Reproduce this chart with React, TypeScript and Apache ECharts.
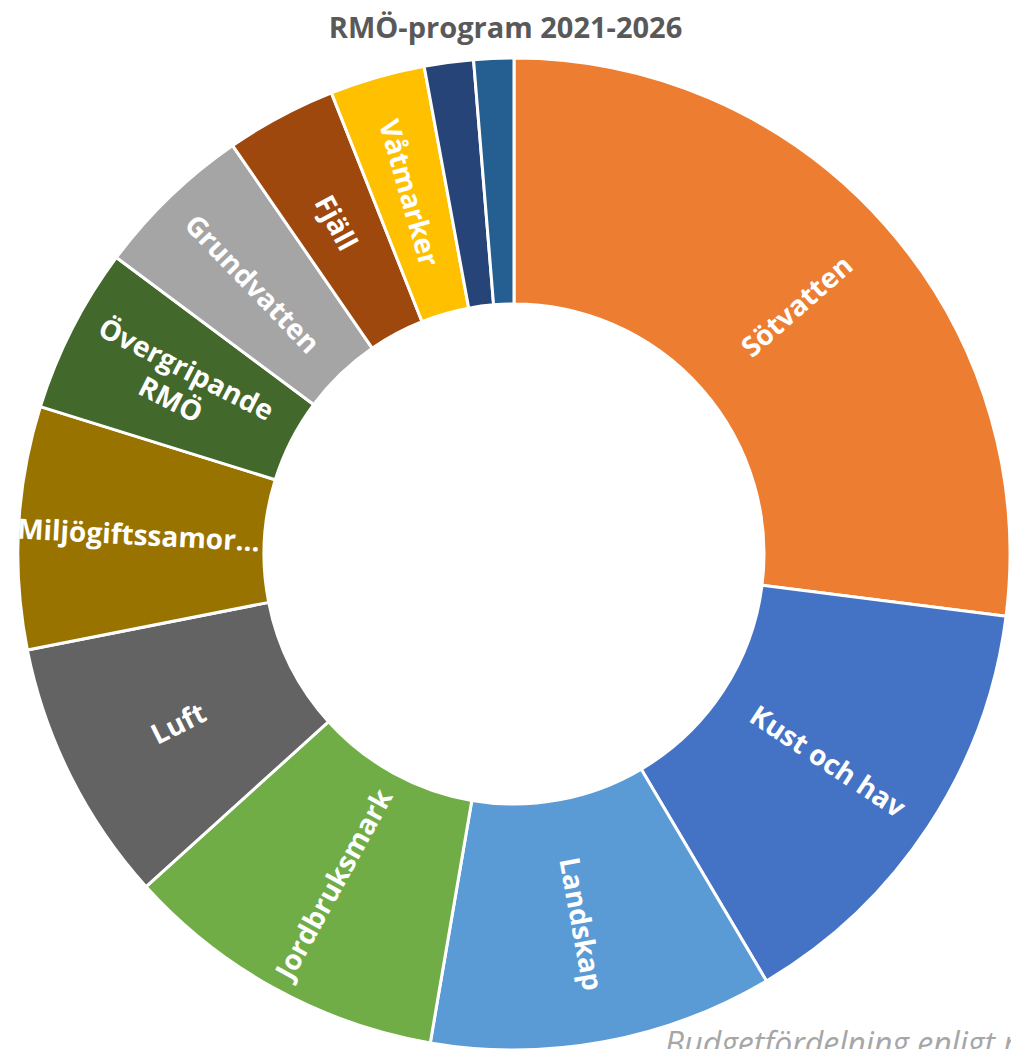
import React, { useEffect, useRef } from "react";
import * as echarts from "echarts";

const TITLE = "RMÖ-program 2021-2026";
const FOOTNOTE = "Budgetfördelning enligt regionalt program";
const names = [
  "Sötvatten",
  "Kust och hav",
  "Landskap",
  "Jordbruksmark",
  "Luft",
  "Miljögiftssamordning",
  "Övergripande RMÖ",
  "Grundvatten",
  "Fjäll",
  "Våtmarker",
  "Skog",
  "Hälsorelaterad miljöövervakning",
];
const values = [27.0, 14.5, 11.2, 10.6, 8.6, 7.9, 5.4, 5.2, 3.6, 3.1, 1.6, 1.3];
const colors = [
  "#ED7D31",
  "#4472C4",
  "#5B9BD5",
  "#70AD47",
  "#636363",
  "#997300",
  "#43682B",
  "#A5A5A5",
  "#9E480E",
  "#FFC000",
  "#264478",
  "#255E91",
];
const hiddenLabels = ["Skog", "Hälsorelaterad miljöövervakning"];

export default function App() {
  const ref = useRef<HTMLDivElement>(null);
  useEffect(() => {
    if (!ref.current) return;
    const chart = echarts.init(ref.current, null, { renderer: "svg" });
    const data = names.map((n, i) => {
      const item: any = { name: n, value: values[i], itemStyle: { color: colors[i] } };
      if (hiddenLabels.includes(n)) item.label = { show: false };
      if (n === "Övergripande RMÖ") item.label = { formatter: "Övergripande\nRMÖ", lineHeight: 34 };
      return item;
    });
    chart.setOption({
      animation: false,
      title: {
        text: TITLE,
        left: "center",
        top: 7,
        textStyle: { fontFamily: "Open Sans", fontWeight: "bold", fontSize: 29, color: "#595959" },
      },
      graphic: [
        {
          type: "text",
          left: 665,
          top: 1026,
          style: {
            text: FOOTNOTE,
            fontFamily: "Open Sans",
            fontStyle: "italic",
            fontSize: 32,
            fill: "#A6A6A6",
          },
        },
      ],
      series: [
        {
          type: "pie",
          center: [514, 554],
          radius: [250, 496],
          startAngle: 90,
          clockwise: true,
          avoidLabelOverlap: false,
          itemStyle: { borderColor: "#ffffff", borderWidth: 3 },
          label: {
            show: true,
            position: "inside",
            rotate: "radial",
            color: "#ffffff",
            fontFamily: "Open Sans",
            fontWeight: "bold",
            fontSize: 28,
            width: 250,
            overflow: "truncate",
          },
          labelLine: { show: false },
          emphasis: { disabled: true },
          data,
        },
      ],
    });
    return () => chart.dispose();
  }, []);
  return (
    <div
      ref={ref}
      style={{ position: "fixed", left: 0, top: 0, width: 1011, height: 1049, background: "#ffffff" }}
    />
  );
}
